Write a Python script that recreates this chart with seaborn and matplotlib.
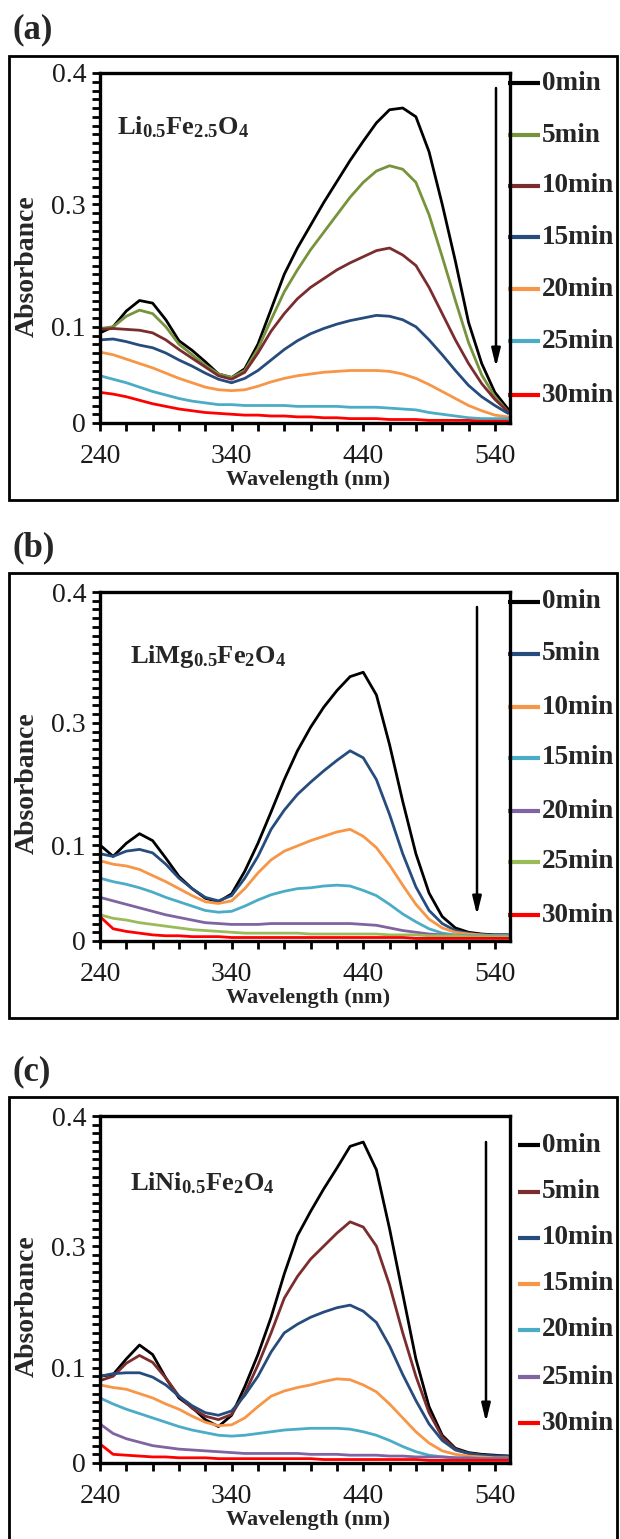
import numpy as np
import pandas as pd
import matplotlib
matplotlib.use("Agg")
import matplotlib.pyplot as plt
import seaborn as sns
from matplotlib.patches import Rectangle
from matplotlib.lines import Line2D

# ---------------- data ----------------
wavelength = [240, 250, 260, 270, 280, 290, 300, 310, 320, 330, 340, 350, 360, 370, 380, 390,
              400, 410, 420, 430, 440, 450, 460, 470, 480, 490, 500, 510, 520, 530, 540, 550]
times = ["0min", "5min", "10min", "15min", "20min", "25min", "30min"]

# (a) Li0.5Fe2.5O4
a_0 = [0.103, 0.110, 0.128, 0.140, 0.137, 0.118, 0.094, 0.083, 0.070, 0.056, 0.052, 0.062, 0.090, 0.130, 0.170, 0.200,
       0.226, 0.252, 0.276, 0.300, 0.322, 0.343, 0.358, 0.360, 0.350, 0.310, 0.250, 0.185, 0.115, 0.068, 0.035, 0.016]
a_5 = [0.108, 0.110, 0.122, 0.129, 0.125, 0.110, 0.090, 0.078, 0.066, 0.056, 0.052, 0.060, 0.085, 0.118, 0.150, 0.175,
       0.198, 0.218, 0.238, 0.258, 0.275, 0.288, 0.294, 0.290, 0.275, 0.238, 0.190, 0.140, 0.092, 0.055, 0.030, 0.013]
a_10 = [0.107, 0.108, 0.107, 0.106, 0.103, 0.095, 0.084, 0.074, 0.064, 0.054, 0.050, 0.058, 0.080, 0.105, 0.125, 0.142,
        0.155, 0.165, 0.175, 0.183, 0.190, 0.197, 0.200, 0.192, 0.180, 0.155, 0.125, 0.095, 0.068, 0.045, 0.027, 0.013]
a_15 = [0.095, 0.096, 0.093, 0.089, 0.086, 0.080, 0.072, 0.065, 0.057, 0.050, 0.046, 0.051, 0.060, 0.072, 0.084, 0.094,
        0.102, 0.108, 0.113, 0.117, 0.120, 0.123, 0.122, 0.118, 0.110, 0.095, 0.078, 0.060, 0.043, 0.030, 0.020, 0.011]
a_20 = [0.081, 0.078, 0.073, 0.068, 0.063, 0.057, 0.051, 0.046, 0.041, 0.038, 0.037, 0.038, 0.042, 0.047, 0.051, 0.054,
        0.056, 0.058, 0.059, 0.060, 0.060, 0.060, 0.059, 0.056, 0.051, 0.044, 0.036, 0.028, 0.020, 0.014, 0.009, 0.007]
a_25 = [0.054, 0.050, 0.046, 0.041, 0.036, 0.032, 0.028, 0.025, 0.023, 0.021, 0.021, 0.020, 0.020, 0.020, 0.020, 0.019,
        0.019, 0.019, 0.019, 0.018, 0.018, 0.018, 0.017, 0.016, 0.015, 0.012, 0.010, 0.008, 0.006, 0.005, 0.005, 0.005]
a_30 = [0.035, 0.033, 0.030, 0.026, 0.022, 0.019, 0.016, 0.014, 0.012, 0.011, 0.010, 0.009, 0.009, 0.008, 0.008, 0.007,
        0.007, 0.006, 0.006, 0.005, 0.005, 0.005, 0.004, 0.004, 0.004, 0.003, 0.003, 0.003, 0.003, 0.002, 0.002, 0.002]

# (b) LiMg0.5Fe2O4
b_0 = [0.110, 0.097, 0.112, 0.123, 0.115, 0.095, 0.074, 0.060, 0.049, 0.045, 0.054, 0.080, 0.112, 0.148, 0.185, 0.218,
       0.245, 0.268, 0.287, 0.303, 0.308, 0.282, 0.225, 0.160, 0.100, 0.055, 0.028, 0.015, 0.010, 0.008, 0.007, 0.007]
b_5 = [0.100, 0.097, 0.103, 0.105, 0.101, 0.088, 0.072, 0.060, 0.050, 0.046, 0.052, 0.072, 0.097, 0.128, 0.150, 0.168,
       0.182, 0.195, 0.207, 0.218, 0.210, 0.185, 0.145, 0.100, 0.062, 0.035, 0.020, 0.012, 0.009, 0.007, 0.007, 0.007]
b_10 = [0.092, 0.088, 0.086, 0.082, 0.075, 0.068, 0.060, 0.052, 0.045, 0.043, 0.046, 0.060, 0.078, 0.093, 0.103, 0.109,
        0.115, 0.120, 0.125, 0.128, 0.120, 0.107, 0.087, 0.064, 0.042, 0.025, 0.015, 0.010, 0.008, 0.007, 0.006, 0.006]
b_15 = [0.072, 0.068, 0.065, 0.061, 0.056, 0.050, 0.045, 0.040, 0.035, 0.033, 0.034, 0.040, 0.047, 0.053, 0.057, 0.060,
        0.061, 0.063, 0.064, 0.063, 0.058, 0.052, 0.042, 0.031, 0.022, 0.014, 0.009, 0.007, 0.006, 0.006, 0.006, 0.006]
b_20 = [0.050, 0.046, 0.042, 0.038, 0.034, 0.030, 0.027, 0.024, 0.021, 0.020, 0.019, 0.019, 0.019, 0.020, 0.020, 0.020,
        0.020, 0.020, 0.020, 0.020, 0.019, 0.018, 0.015, 0.012, 0.010, 0.008, 0.007, 0.006, 0.005, 0.005, 0.005, 0.005]
b_25 = [0.030, 0.026, 0.024, 0.021, 0.019, 0.017, 0.015, 0.013, 0.012, 0.011, 0.010, 0.009, 0.009, 0.009, 0.009, 0.009,
        0.008, 0.008, 0.008, 0.008, 0.008, 0.008, 0.007, 0.007, 0.007, 0.006, 0.006, 0.006, 0.005, 0.005, 0.005, 0.005]
b_30 = [0.028, 0.014, 0.011, 0.009, 0.007, 0.006, 0.006, 0.005, 0.005, 0.005, 0.004, 0.004, 0.004, 0.004, 0.004, 0.004,
        0.004, 0.004, 0.004, 0.004, 0.004, 0.004, 0.004, 0.004, 0.003, 0.003, 0.003, 0.003, 0.003, 0.003, 0.003, 0.003]

# (c) LiNi0.5Fe2O4
c_0 = [0.100, 0.102, 0.120, 0.136, 0.125, 0.098, 0.075, 0.064, 0.050, 0.042, 0.055, 0.088, 0.125, 0.168, 0.218, 0.262,
       0.290, 0.316, 0.340, 0.365, 0.370, 0.338, 0.270, 0.195, 0.120, 0.065, 0.032, 0.017, 0.012, 0.010, 0.009, 0.008]
c_5 = [0.095, 0.100, 0.115, 0.124, 0.116, 0.098, 0.077, 0.063, 0.054, 0.050, 0.056, 0.080, 0.113, 0.150, 0.190, 0.215,
       0.235, 0.250, 0.265, 0.278, 0.272, 0.250, 0.205, 0.150, 0.100, 0.058, 0.030, 0.016, 0.011, 0.009, 0.008, 0.008]
c_10 = [0.100, 0.103, 0.104, 0.104, 0.099, 0.090, 0.077, 0.066, 0.058, 0.055, 0.060, 0.078, 0.100, 0.128, 0.150, 0.160,
        0.168, 0.174, 0.179, 0.182, 0.175, 0.162, 0.135, 0.102, 0.072, 0.045, 0.026, 0.015, 0.011, 0.009, 0.008, 0.008]
c_15 = [0.090, 0.087, 0.085, 0.080, 0.075, 0.068, 0.062, 0.054, 0.047, 0.043, 0.044, 0.052, 0.065, 0.077, 0.083, 0.087,
        0.090, 0.094, 0.097, 0.096, 0.090, 0.082, 0.068, 0.052, 0.036, 0.023, 0.014, 0.010, 0.008, 0.007, 0.006, 0.006]
c_20 = [0.075, 0.068, 0.062, 0.057, 0.052, 0.047, 0.042, 0.038, 0.035, 0.032, 0.031, 0.032, 0.034, 0.036, 0.038, 0.039,
        0.040, 0.040, 0.040, 0.039, 0.036, 0.032, 0.026, 0.019, 0.013, 0.009, 0.007, 0.006, 0.005, 0.005, 0.005, 0.005]
c_25 = [0.045, 0.034, 0.028, 0.024, 0.020, 0.018, 0.016, 0.015, 0.014, 0.013, 0.012, 0.011, 0.011, 0.011, 0.011, 0.011,
        0.010, 0.010, 0.010, 0.009, 0.009, 0.009, 0.008, 0.008, 0.007, 0.007, 0.007, 0.006, 0.006, 0.005, 0.005, 0.005]
c_30 = [0.022, 0.010, 0.009, 0.008, 0.007, 0.007, 0.006, 0.006, 0.006, 0.005, 0.005, 0.005, 0.005, 0.005, 0.005, 0.005,
        0.005, 0.004, 0.004, 0.004, 0.004, 0.004, 0.004, 0.004, 0.004, 0.003, 0.003, 0.003, 0.003, 0.003, 0.003, 0.003]

x_ticks = [240, 340, 440, 540]
y_tick_pos = [0, 0.11, 0.25, 0.4]
y_tick_labels = ["0", "0.1", "0.3", "0.4"]

# ---------------- style ----------------
sns.set_theme(style="white")
plt.rcParams["font.family"] = ["Liberation Serif", "DejaVu Serif"]
plt.rcParams["mathtext.fontset"] = "custom"
plt.rcParams["mathtext.rm"] = "Liberation Serif"
plt.rcParams["mathtext.bf"] = "Liberation Serif:bold"
plt.rcParams["mathtext.it"] = "Liberation Serif:italic"
plt.rcParams.update({
    "xtick.bottom": True, "ytick.left": True,
    "xtick.direction": "out", "ytick.direction": "out",
    "xtick.major.size": 6, "xtick.minor.size": 6,
    "ytick.major.size": 6, "ytick.minor.size": 6,
    "xtick.major.width": 2.0, "xtick.minor.width": 2.0,
    "ytick.major.width": 2.0, "ytick.minor.width": 2.0,
    "xtick.color": "black", "ytick.color": "black",
})

BLACK = "#000000"
OLIVE = "#77933c"
DRED = "#7b2c2d"
DBLUE = "#264b7d"
ORANGE = "#f79646"
LBLUE = "#4bacc6"
RED = "#ff0000"
PURPLE = "#8064a2"
GREEN = "#9bbb59"

W, H = 620, 1539
fig = plt.figure(figsize=(W / 100, H / 100), dpi=100)
fig.patch.set_facecolor("white")

panels = [
    dict(tag="(a)", tag_y=30, box=(9, 56, 617, 500), axbox=(100, 73, 510, 423),
         series=[a_0, a_5, a_10, a_15, a_20, a_25, a_30],
         colors=[BLACK, OLIVE, DRED, DBLUE, ORANGE, LBLUE, RED],
         formula=r"$\mathbf{Li_{0.5}Fe_{2.5}O_4}$", fpos=(117, 127),
         leg_y=[83, 135, 186, 237, 289, 341, 395], leg_x0=508,
         arrow=(496, 88, 367), ylab_y=266),
    dict(tag="(b)", tag_y=548, box=(9, 573, 617, 1018), axbox=(100, 592, 510, 941),
         series=[b_0, b_5, b_10, b_15, b_20, b_25, b_30],
         colors=[BLACK, DBLUE, ORANGE, LBLUE, PURPLE, GREEN, RED],
         formula=r"$\mathbf{LiMg_{0.5}Fe_2O_4}$", fpos=(130, 657),
         leg_y=[602, 654, 707, 758, 811, 862, 915], leg_x0=508,
         arrow=(477, 607, 915), ylab_y=783),
    dict(tag="(c)", tag_y=1072, box=(9, 1097, 617, 1600), axbox=(100, 1116, 510, 1463),
         series=[c_0, c_5, c_10, c_15, c_20, c_25, c_30],
         colors=[BLACK, DRED, DBLUE, ORANGE, LBLUE, PURPLE, RED],
         formula=r"$\mathbf{LiNi_{0.5}Fe_2O_4}$", fpos=(130, 1183),
         leg_y=[1145, 1192, 1238, 1284, 1330, 1377, 1423], leg_x0=518,
         arrow=(486, 1142, 1422), ylab_y=1306),
]

for p in panels:
    l, t, r, b = p["axbox"]
    axw, axh = r - l, b - t
    ax = fig.add_axes([l / W, 1 - b / H, axw / W, axh / H])

    rows = []
    for tname, vals in zip(times, p["series"]):
        for wl, v in zip(wavelength, vals):
            rows.append((wl, v, tname))
    df = pd.DataFrame(rows, columns=["Wavelength", "Absorbance", "Time"])
    sns.lineplot(data=df, x="Wavelength", y="Absorbance", hue="Time", hue_order=times,
                 palette=dict(zip(times, p["colors"])), estimator=None, legend=False,
                 linewidth=2.0, ax=ax)
    for ln in ax.get_lines():
        ln.set_solid_joinstyle("round")

    ax.set_xlim(240, 551.5)
    ax.set_ylim(0, 0.4)
    ax.set_xticks(x_ticks)
    ax.set_xticks(np.arange(260, 551, 20), minor=True)
    ax.set_yticks(y_tick_pos)
    ax.set_yticklabels(y_tick_labels)
    ax.set_yticks(np.arange(0, 0.401, 0.01), minor=True)
    ax.tick_params(axis="both", which="both", direction="out", length=6, width=2.0,
                   color="black", left=True, bottom=True, right=False, top=False)
    ax.tick_params(axis="both", which="major", labelsize=20, labelcolor="#1a1a1a")
    ax.tick_params(axis="x", which="major", pad=9)
    ax.tick_params(axis="y", which="major", pad=4)
    for s in ax.spines.values():
        s.set_visible(True)
        s.set_color("black")
        s.set_linewidth(2.4)
    ax.grid(False)

    ax.set_xlabel("Wavelength (nm)", fontsize=16, fontweight="bold")
    ax.xaxis.label.set_va("center")
    ax.xaxis.set_label_coords((308 - l) / axw, -57 / axh)
    ax.set_ylabel("Absorbance", fontsize=20, fontweight="bold")
    ax.yaxis.label.set_va("center")
    ax.yaxis.set_label_coords((27 - l) / axw, (b - p["ylab_y"]) / axh)

    # compound name
    fx_, fy_ = p["fpos"]
    ax.text((fx_ - l) / axw, (b - fy_) / axh, p["formula"], transform=ax.transAxes,
            fontsize=19, ha="left", va="center")

    # arrow
    axx, ay0, ay1 = p["arrow"]
    ax.annotate("", xy=((axx - l) / axw, (b - ay1) / axh), xytext=((axx - l) / axw, (b - ay0) / axh),
                xycoords="axes fraction", textcoords="axes fraction",
                arrowprops=dict(arrowstyle="-|>,head_width=0.22,head_length=0.9",
                                color="black", lw=1.8, shrinkA=0, shrinkB=0))

    # legend (lines + labels to the right of the axes)
    for tname, col, ly in zip(times, p["colors"], p["leg_y"]):
        yy = (b - ly) / axh
        ax.add_line(Line2D([(p["leg_x0"] - l) / axw, (540 - l) / axw], [yy, yy],
                           transform=ax.transAxes, color=col, lw=3, clip_on=False,
                           solid_capstyle="butt"))
        ax.text((542 - l) / axw, yy, tname, transform=ax.transAxes, fontsize=19.5,
                fontweight="bold", ha="left", va="center", clip_on=False)

    # panel tag and outer frame
    fig.text(12 / W, 1 - p["tag_y"] / H, p["tag"], fontsize=25, fontweight="bold",
             ha="left", va="center")
    x0, y0, x1, y1 = p["box"]
    fig.add_artist(Rectangle((x0 / W, 1 - y1 / H), (x1 - x0) / W, (y1 - y0) / H,
                             transform=fig.transFigure, fill=False, edgecolor="black",
                             linewidth=2.0))

fig.savefig("out.png", dpi=100, facecolor="white")
